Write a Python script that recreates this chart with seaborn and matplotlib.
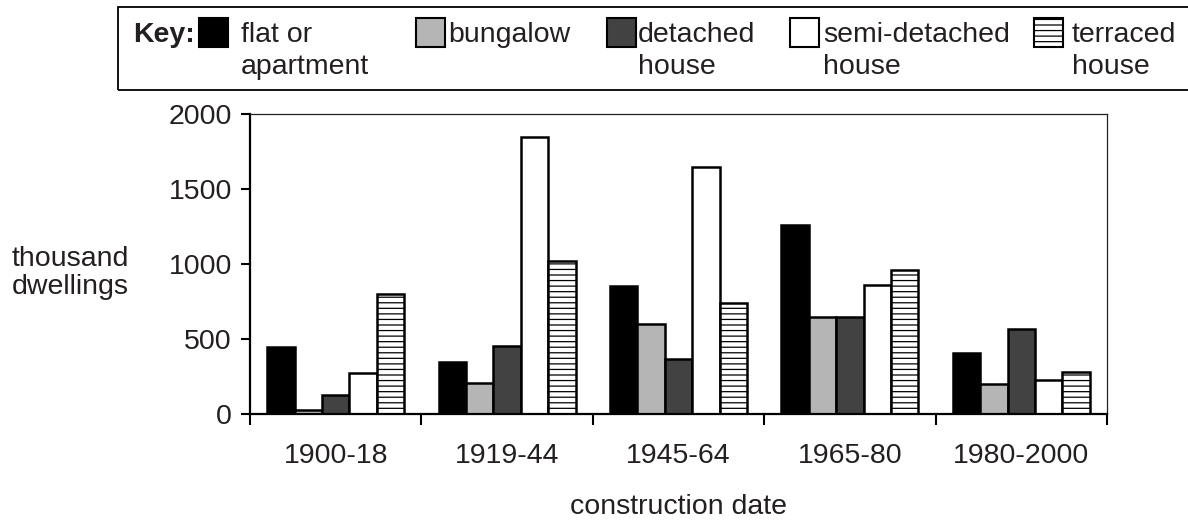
import numpy as np
import pandas as pd
import matplotlib
matplotlib.use("Agg")
import matplotlib.pyplot as plt
import seaborn as sns
from matplotlib.patches import Rectangle

# ---- data ----
periods = ["1900-18", "1919-44", "1945-64", "1965-80", "1980-2000"]
types = ["flat or apartment", "bungalow", "detached house",
         "semi-detached house", "terraced house"]
flat = [445, 345, 855, 1260, 405]
bungalow = [25, 210, 600, 650, 200]
detached = [130, 455, 370, 645, 565]
semi = [275, 1850, 1645, 860, 230]
terraced = [800, 1020, 740, 960, 280]
legend_labels = ["flat or\napartment", "bungalow", "detached\nhouse",
                 "semi-detached\nhouse", "terraced\nhouse"]
y_ticks = [0, 500, 1000, 1500, 2000]

series = [flat, bungalow, detached, semi, terraced]
df = pd.DataFrame({
    "period": np.tile(periods, len(types)),
    "type": np.repeat(types, len(periods)),
    "value": np.concatenate(series),
})

# ---- style ----
sns.set_theme(style="white")
plt.rcParams["font.family"] = ["Liberation Sans", "DejaVu Sans"]
plt.rcParams["hatch.linewidth"] = 0.9
TXT = "#231f20"
FS = 20.5
colors = ["#000000", "#b5b5b5", "#424242", "#ffffff", "#ffffff"]

W, H = 1188, 521
fig = plt.figure(figsize=(W / 100, H / 100), dpi=100)
fig.patch.set_facecolor("white")

ax_l, ax_r, ax_t, ax_b = 250, 1107, 114, 414
ax = fig.add_axes([ax_l / W, 1 - ax_b / H, (ax_r - ax_l) / W, (ax_b - ax_t) / H])

sns.barplot(data=df, x="period", y="value", hue="type", order=periods,
            hue_order=types, palette=colors, saturation=1, width=0.8, gap=0,
            edgecolor="black", linewidth=1.8, errorbar=None, legend=False, ax=ax)
for bar in ax.containers[4]:
    bar.set_hatch("---")

ax.set_xlim(-0.5, 4.5)
ax.set_ylim(0, 2000)
ax.set_yticks(y_ticks)
ax.set_yticklabels([str(v) for v in y_ticks])
ax.set_xticks(range(len(periods)))
ax.set_xticklabels(periods)
ax.set_xticks(np.arange(-0.5, len(periods), 1), minor=True)

ax.tick_params(axis="x", which="major", length=0, pad=21, labelsize=FS,
               labelcolor=TXT, bottom=True)
ax.tick_params(axis="x", which="minor", length=8, width=1.5, direction="out",
               bottom=True, color="black")
ax.tick_params(axis="y", length=6.5, width=1.5, pad=6.5, labelsize=FS,
               labelcolor=TXT, left=True, direction="out", color="black")

for s in ["left", "bottom"]:
    ax.spines[s].set_linewidth(1.6)
    ax.spines[s].set_color("black")
for s in ["top", "right"]:
    ax.spines[s].set_linewidth(0.9)
    ax.spines[s].set_color("#222222")

ax.set_ylabel("thousand\ndwellings", rotation=0, ha="left", va="center",
              linespacing=1.05, fontsize=FS, color=TXT)
ax.yaxis.set_label_coords((12 - ax_l) / (ax_r - ax_l), 0.47)
ax.set_xlabel("construction date", va="baseline", fontsize=FS, color=TXT)
ax.xaxis.set_label_coords(0.5, (ax_b - 514) / (ax_b - ax_t))

# ---- key box ----
def fx(x):
    return x / W

def fy(y):
    return 1 - y / H

fig.add_artist(Rectangle((fx(118), fy(90)), fx(1210) - fx(118), fy(7) - fy(90),
                         transform=fig.transFigure, fill=False,
                         edgecolor="black", linewidth=1.3))
fig.text(fx(133), fy(22), "Key:", fontsize=FS, fontweight="bold", color=TXT,
         ha="left", va="top")
sq_x = [199, 416, 607, 790, 1034]
tx_x = [241, 448, 638, 823, 1072]
hatches = [None, None, None, None, "---"]
for i in range(len(types)):
    fig.add_artist(Rectangle((fx(sq_x[i]), fy(47)), fx(29), fy(18) - fy(47),
                             transform=fig.transFigure, facecolor=colors[i],
                             edgecolor="black", linewidth=1.5, hatch=hatches[i]))
    fig.text(fx(tx_x[i]), fy(22), legend_labels[i], fontsize=FS, color=TXT,
             ha="left", va="top", linespacing=1.3)

fig.savefig("out.png", dpi=100, facecolor="white")
